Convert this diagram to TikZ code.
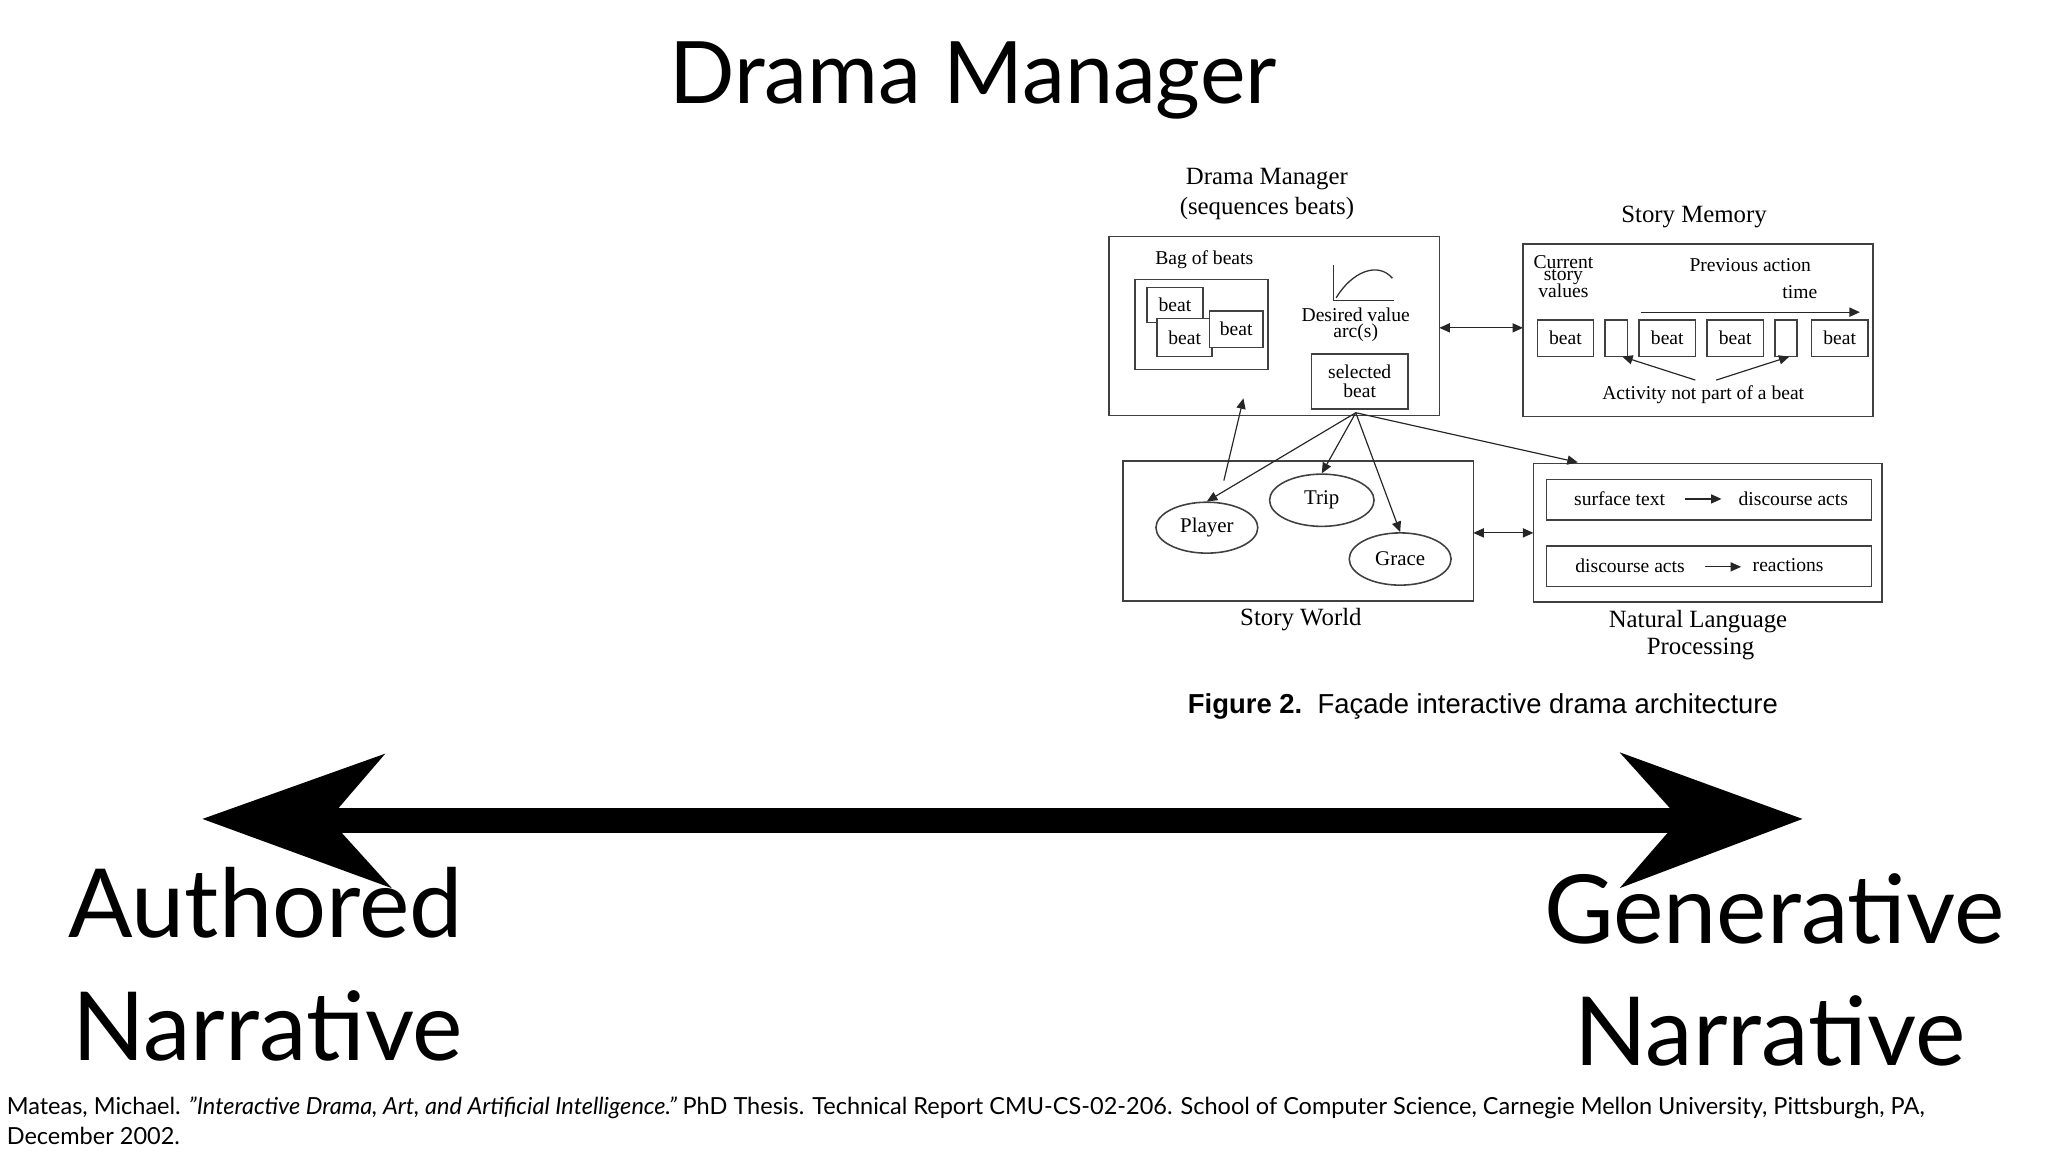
\documentclass[tikz,border=0pt]{standalone}
\usepackage{fontspec}
\setmainfont{Lato}
\newfontfamily\tms{Liberation Serif}
\newfontfamily\ars{Liberation Sans}
\usetikzlibrary{arrows.meta, shapes.geometric}
\begin{document}
\begin{tikzpicture}
	[
	x=1pt, y=-1pt,
	bx/.style={draw = black!75, line width = 1.2pt},
	fg/.style={font = \tms\fontsize{15}{15}\selectfont, inner sep = 0pt},
	el/.style={draw = black!75, line width = 1.2pt, shape = ellipse, minimum width = 78pt, minimum height = 39pt, font = \tms\fontsize{16}{16}\selectfont},
	ar/.style={-{Triangle[length=8pt, width=7pt]}, line width = 0.9pt, black!85},
	dar/.style={{Triangle[length=8pt, width=7pt]}-{Triangle[length=8pt, width=7pt]}, line width = 0.9pt, black!85},
	big/.style={font = \fontsize{73}{73}\selectfont, inner sep = 0pt, anchor = base west}
	]
	
	\useasboundingbox (0,0) rectangle (1568,882);
	
	% slide title
	\node[font = \fontsize{66}{66}\selectfont](title) at (745,62){Drama Manager};
	
	% the embedded figure
	\node[fg, font = \tms\fontsize{19}{19}\selectfont](dmt) at (970,137){Drama Manager};
	\node[fg, font = \tms\fontsize{19}{19}\selectfont](dms) at (970,160){(sequences beats)};
	\draw[bx] (849,181) rectangle (1102,318);
	\coordinate (dmR) at (1102,251);
	\coordinate (dmB) at (952,305);
	\node[fg](bag) at (922,199){Bag of beats};
	\draw[bx] (869,214) rectangle (971,283);
	\draw[bx, fill = white] (878,220) rectangle node[fg]{beat} (921,247);
	\draw[bx, fill = white] (886,244) rectangle node[fg]{beat} (928,273);
	\draw[bx, fill = white] (926,238) rectangle node[fg]{beat} (967,266);
	\draw[black!80, line width = 1pt] (1021,203) -- (1021,230) -- (1067,230);
	\draw[black!80, line width = 1pt] (1023,228) .. controls (1035,208) and (1055,200) .. (1066,213);
	\node[fg](dv) at (1038,241){Desired value};
	\node[fg](arc) at (1038,255){arc(s)};
	\draw[bx] (1004,271) rectangle (1078,313);
	\node[fg](sel1) at (1041,285){selected};
	\node[fg](sel2) at (1041,299){beat};
	\coordinate (sel) at (1038,316);
	
	\node[fg, font = \tms\fontsize{19}{19}\selectfont](smt) at (1297,166){Story Memory};
	\draw[bx] (1166,187) rectangle (1434,319);
	\coordinate (smL) at (1166,251);
	\node[fg](cur) at (1197,201){Current};
	\node[fg](sto) at (1197,212){story};
	\node[fg](val) at (1197,223){values};
	\node[fg](prev) at (1340,203){Previous action};
	\node[fg](time) at (1378,224){time};
	\coordinate (t0) at (1256,239);
	\coordinate (t1) at (1424,239);
	\draw[ar] (t0) -- (t1);
	\draw[bx] (1177,245) rectangle node[fg]{beat} (1220,273);
	\draw[bx] (1229,245) rectangle (1246,273);
	\draw[bx] (1255,245) rectangle node[fg]{beat} (1298,273);
	\draw[bx] (1307,245) rectangle node[fg]{beat} (1350,273);
	\draw[bx] (1359,245) rectangle (1376,273);
	\draw[bx] (1387,245) rectangle node[fg]{beat} (1430,273);
	\node[fg](act) at (1304,302){Activity not part of a beat};
	\coordinate (gap1) at (1242,273);
	\coordinate (gap2) at (1370,273);
	\draw[ar] (1298,291) -- (gap1);
	\draw[ar] (1314,291) -- (gap2);
	
	\draw[bx] (860,353) rectangle (1128,460);
	\node[fg, font = \tms\fontsize{19}{19}\selectfont](swt) at (996,474){Story World};
	\coordinate (swR) at (1128,408);
	\coordinate (swT) at (937,368);
	\node[el](player) at (924,404){Player};
	\node[el, minimum width = 80pt, minimum height = 40pt](trip) at (1012,383){Trip};
	\node[el, minimum height = 40pt](grace) at (1072,428){Grace};
	
	\draw[bx] (1174,355) rectangle (1441,461);
	\coordinate (nlL) at (1174,408);
	\coordinate (nlT) at (1208,354);
	\draw[bx] (1184,367) rectangle (1433,398);
	\draw[bx] (1184,418) rectangle (1433,449);
	\node[fg](st) at (1240,382){surface text};
	\node[fg](da1) at (1373,382){discourse acts};
	\draw[ar] (1290,382) -- (1318,382);
	\node[fg](da2) at (1248,433){discourse acts};
	\node[fg](re) at (1369,433){reactions};
	\draw[ar] (1305,434) -- (1333,434);
	\node[fg, font = \tms\fontsize{19}{19}\selectfont](nl1) at (1300,476){Natural Language};
	\node[fg, font = \tms\fontsize{19}{19}\selectfont](nl2) at (1302,497){Processing};
	
	\draw[dar] (dmR) -- (smL);
	\draw[dar] (swR) -- (nlL);
	\draw[ar] (swT) -- (dmB);
	\draw[ar] (sel) -- (player.north);
	\draw[ar] (sel) -- (trip.north);
	\draw[ar] (sel) -- (grace.north);
	\draw[ar] (sel) -- (nlT);
	
	\node[font = \ars\fontsize{21}{21}\selectfont, anchor = west](cap) at (906,541){\textbf{Figure 2.}\ \ Façade interactive drama architecture};
	
	% the big double arrow
	\coordinate (aL) at (250,628);
	\coordinate (aR) at (1290,628);
	\draw[line width = 19pt] (aL) -- (aR);
	\fill (155,627) -- (295,577) -- (252,627) -- (300,680) -- cycle;
	\fill (1380,627) -- (1240,576) -- (1286,627) -- (1240,680) -- cycle;
	
	\node[big](a1) at (52,718){Authored};
	\node[big](a2) at (55,812){Narrative};
	\node[big](g1) at (1182,722){Generative};
	\node[big](g2) at (1205,816){Narrative};
	
	% reference
	\node[font = \fontsize{18}{22}\selectfont, anchor = west, inner sep = 0pt](ref1) at (5,848){Mateas, Michael. \textit{"Interactive Drama, Art, and Artificial Intelligence."} PhD Thesis. Technical Report CMU-CS-02-206. School of Computer Science, Carnegie Mellon University, Pittsburgh, PA,};
	\node[font = \fontsize{18}{22}\selectfont, anchor = west, inner sep = 0pt](ref2) at (5,870){December 2002.};
\end{tikzpicture}
\end{document}
